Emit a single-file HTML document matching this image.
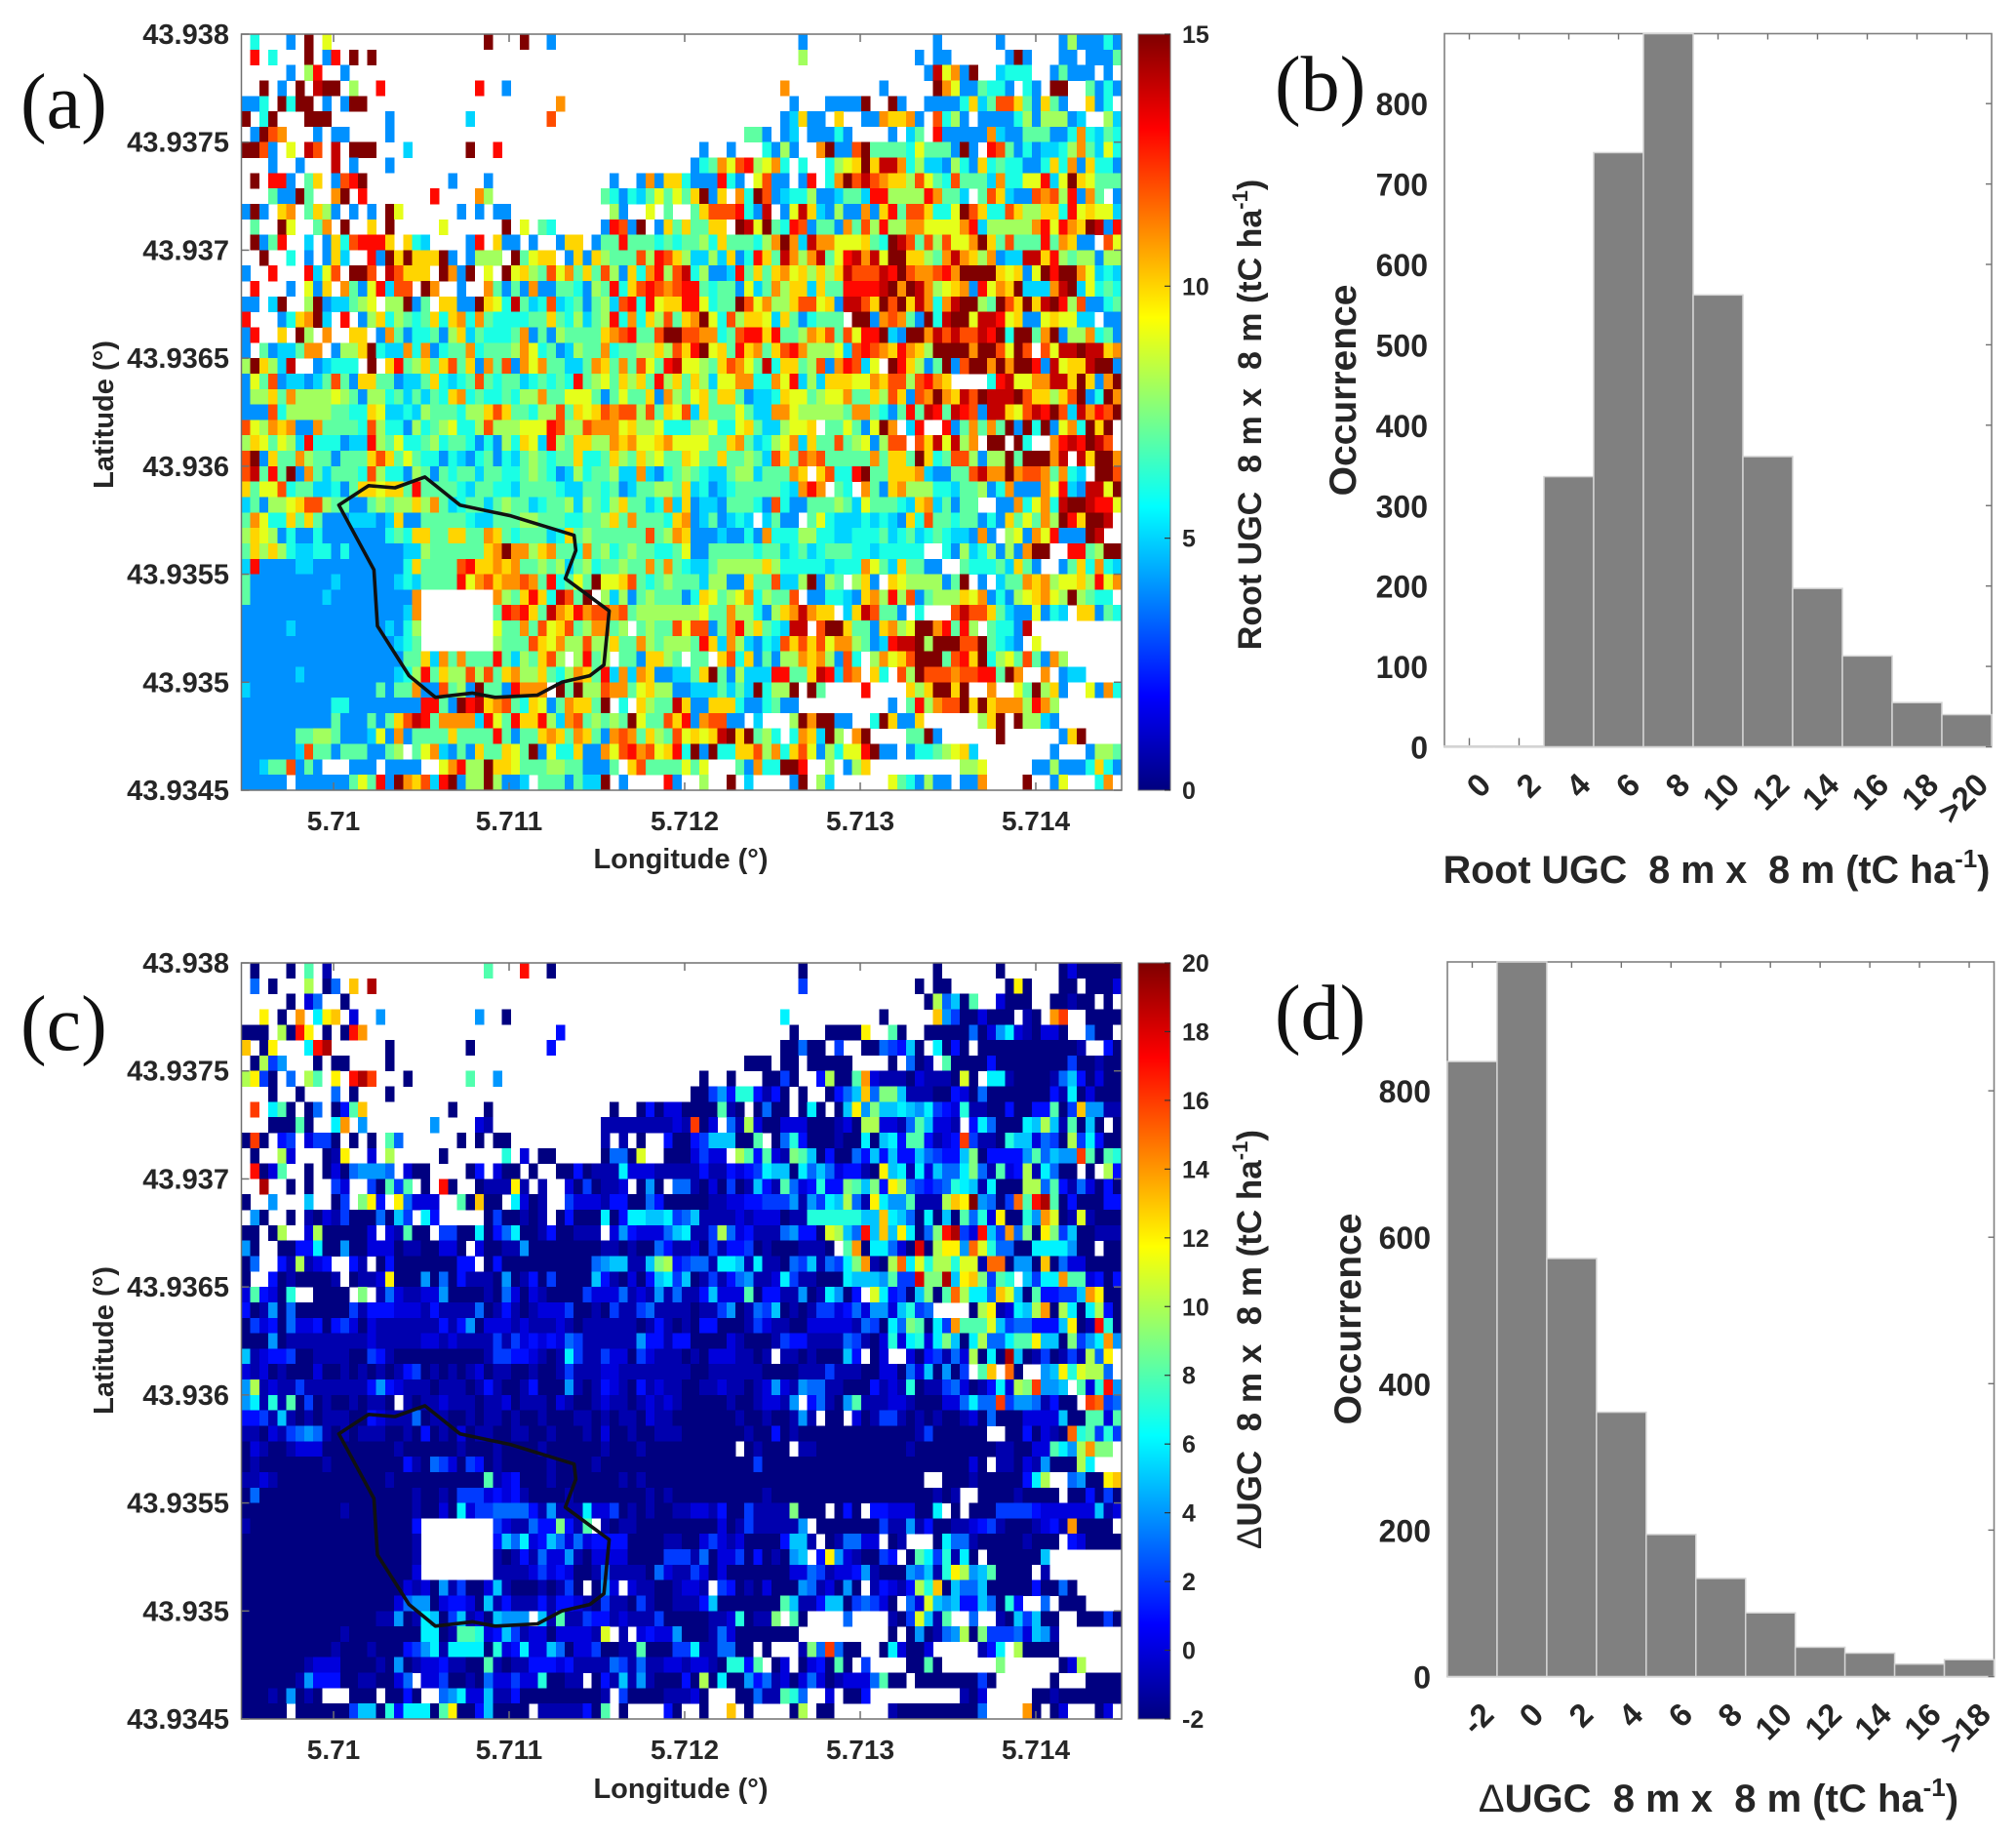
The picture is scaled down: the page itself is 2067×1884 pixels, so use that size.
<!DOCTYPE html>
<html>
<head>
<meta charset="utf-8">
<title>Root UGC and delta UGC maps with histograms</title>
<style>
html,body{margin:0;padding:0;background:#fff;}
svg{display:block;}
text{font-family:"Liberation Sans",sans-serif;fill:#262626;white-space:pre;}
.b{font-weight:bold;}
.serif{font-family:"Liberation Serif",serif;fill:#111;}
</style>
</head>
<body>
<svg id="fig" xmlns="http://www.w3.org/2000/svg" width="2067" height="1884" viewBox="0 0 2067 1884">
<defs>
<linearGradient id="jet" x1="0" y1="1" x2="0" y2="0">
<stop offset="0" stop-color="#00007f"/><stop offset="0.125" stop-color="#0000ff"/><stop offset="0.375" stop-color="#00ffff"/><stop offset="0.5" stop-color="#80ff80"/><stop offset="0.625" stop-color="#ffff00"/><stop offset="0.875" stop-color="#ff0000"/><stop offset="1" stop-color="#7f0000"/>
</linearGradient>
</defs>
<rect x="0" y="0" width="2067" height="1884" fill="#fff"/>
<g id="layer"></g>

<text class="serif" x="21" y="131" font-size="80">(a)</text>
<text class="serif" x="1307" y="113" font-size="80">(b)</text>
<text class="serif" x="21" y="1076" font-size="80">(c)</text>
<text class="serif" x="1307" y="1065" font-size="80">(d)</text>

<text class="b" font-size="29" text-anchor="middle" transform="translate(116,425) rotate(-90)">Latitude (°)</text>
<text class="b" font-size="29" text-anchor="middle" x="698" y="890">Longitude (°)</text>
<text class="b" font-size="29" text-anchor="middle" transform="translate(116,1374) rotate(-90)">Latitude (°)</text>
<text class="b" font-size="29" text-anchor="middle" x="698" y="1843">Longitude (°)</text>

<text class="b" font-size="34" text-anchor="middle" transform="translate(1293,425) rotate(-90)">Root UGC  8 m x  8 m (tC ha<tspan font-size="22" dy="-14">-1</tspan><tspan dy="14">)</tspan></text>
<text class="b" font-size="35" text-anchor="middle" transform="translate(1293,1373) rotate(-90)"><tspan font-weight="normal">Δ</tspan>UGC  8 m x  8 m (tC ha<tspan font-size="22" dy="-14">-1</tspan><tspan dy="14">)</tspan></text>

<text class="b" font-size="39" text-anchor="middle" transform="translate(1390,400) rotate(-90)">Occurrence</text>
<text class="b" font-size="39.5" text-anchor="middle" x="1760" y="905">Root UGC  8 m x  8 m (tC ha<tspan font-size="26" dy="-16">-1</tspan><tspan dy="16">)</tspan></text>
<text class="b" font-size="39" text-anchor="middle" transform="translate(1395,1352) rotate(-90)">Occurrence</text>
<text class="b" font-size="40" text-anchor="middle" x="1762" y="1857"><tspan font-weight="normal">Δ</tspan>UGC  8 m x  8 m (tC ha<tspan font-size="26" dy="-16">-1</tspan><tspan dy="16">)</tspan></text>
</svg>

<script>
// Panel (a) root UGC: one code per grid cell, "." = no data, code index = tC/ha
const rootUgcRows = [
".6...4.f.9 .......... .......f.. .f..4..... .......... .......... ..4....... .......4.. ....4..... .4844464",
".d.6...f.4 d.f.f..... .......... .......... .......... .......... ..8....... .....4.44. .....4f4.. .44.4447",
".....4.8d. .4........ .......... .......... .......... .......... .......... ......4e9b 4f..5666.. 47444.4.",
"..f.4.f.ef f.8..d.... ......d..4 .......... .......... .......... b......... .4.....fb9 447664.64. ff..7464",
"446.f6ff.4 .4ff...... .......... .....b.... .......... .......... .4...4444f ..f4..4444 6a57cca74a 74..a46.",
"f.6f...fff ......4... .....5.... ....c..... .......... .......... 45a44.a..4 4baab4.c68 4.44446848 8845..85",
".4fcb...4. 44....4... .......... .......... .......... ......774. 45.44464.. ..4.57.d44 444b544777 446b6576",
"ffc4.9.ec. e.fff...5. .....f..d. .......... .......... .4..4...64 84..bf44cf 7777697774 f4.dc74645 568b7596",
"...4..4... e.4...4... .......... .......... .......... 467b9cd89b 6.6..689af aeeb685548 64a6766446 a6b4a664",
".f.dd4.7a. 4cdf...... ...4...4.. .......... .4..4b4aa6 444d64.9c4 4.4d.6bfce cbaa8c976c 7775b6699d 59fa9777",
"...744f7.. bf.d...... .d....b8.. .......... 7646579797 af4a.b6fc4 5668445775 dd8888db77 5.7ca544cb c8d4b7.4",
"4f4.ab.7a8 4.4.4.f9.. ....4.4.44 .......... .84..9.7.. 7acccd64e. 49ea54844b 4ad7cca669 fca66ca88a a6d9a995",
".7..f9..7b .f..a.f... ..9......f .9.76..... 4dc4f.4a7a 77aa.fe9f7 6dc4774b7c 8d88bb9999 bd588888bd 9dbafe4d",
".f47d..5.4 a6cddda.a6 5....4d.a4 4.4..4aa.4 77d7776767 786a77768b fb5ebb999a 76fec7c8c9 9bfa7c777d 7ba44.c9",
"..f..6.4.4 a5..d4fafa aaf4.4888. f79aa.4a4a 8777c8dca8 5585a46da7 eb8be79deb e9ffaa87be ba8b455eea d8788488",
"4..d...d59 c.ffc.ecaa a.fb4f.9.f 9a87c9b7a7 c84a6bd8ce 68445d7a7a b9a8a8aecc cedfcbbcdb ffffa9a49f dffb9565",
".d...4.94a .b749d5cc. fb..4..b74 74b4477648 7d6acdcbcd d76774957b 8aa5a77ddd defbfeb89a b4d9baf555 bef59676",
"44.5f..8f4 55789.88f4 7.aa44fa96 e756c56747 85cd6d9aad d9677fc9b8 8acc9a4eec afcfaeb6be ff87fcafae fd8c4467",
"d...46abf5 .d.48a6876 7a6ab6b766 6677a76857 8d6b6a8c7a bf96c8aa95 a746777.ff 4bcb74f6ef f9eed9a449 a9955.44",
"4d..a.f8.b ..aa.4b746 6748a57666 7b47487777 abcd77cffc cbb67cddad 778bac7c9d df54ffbece ccedf6ff7b f488b674",
"4.74557bb. 488af655b6 b4677b6777 8b96745877 b67788a8ca df9a7dab7a cdb88895cd cbadba8fff fbffc9fc.c 9eefeeab",
"8fa85e..45 666.f.ad78 a7ac7a4b7c 4b9b77557b a7b7c97de9 987acb97e6 aa78c4bdc5 9.fda847f4 cffbfbffd4 e9aaeff4",
"497c455457 c74aa77455 7a6567c767 7567676d78 97a8a7d8a7 a8599bb66b 9d585aaa99 bacc8cdba. ...6de99bb eeafa4bf",
"488a7b8888 9874886757 576ab67667 688b779997 47977a4b87 9a7aa74556 a997899b77 a8ca4cbfba ecfeeefcaa 8acf46fb",
"444c688888 7766a95565 8777688aca 77688c7a9a cbcc8c7a9c 5a7779755b b9888887bb 7647d7ed7e dc4eea9ced fc5ebdcf",
"c98bab44b7 7776c86648 6789668c88 8999dc88cb bb9a889666 889669a755 899a.77974 9fb.5d..d4 7b7b7f4f6f 49b6faf.",
"8a97985d66 6455d87966 7867764648 6a95d87aa8 8bab99ab99 9977ab7568 9b5a77c789 48cc.cae9e 8b.ff.f6.. bdedfec.",
"cf4a77b877 4777aca797 6646546746 5787677a66 7a87a8977a 977a77875c a7cbc77777 b7aa7fa67c c8488f7fff be.eaffb",
"ce7d7f4b75 7776c86648 7476775776 6787645867 7855b54678 7655788577 7ba.ac66df 77aaab5447 7cebbfbccb 7b65.ffc",
"a799c67755 647aa9aa7d 7777657766 5777765577 674577887a 5645677777 65bdb.76.b 74ab888665 77846b444b 9d54ee9f",
"574889acc8 774478788a 8b75677578 7756778587 68a7756b5a 455477764c 6447778759 77765ab574 77..44b69b 6effedd9",
"7b966a7a74 4455545a44 7777765577 7887776677 8a7b7776ab 4574565.57 44.7965556 5654a6c776 77464a797b 8fdaffe.",
"8a98464464 444444676a a77aa77ba7 677756a787 77777c78ba 4445446 4b6 6688665566 6756756765 54b4.894b9 d444fe..",
"7a8a865566 4644444455 8777777abf bb8ab776b7 8678776679 4477777677 5675677766 566666..64 856848 4bff ..dd78ff",
"5d44445544 444444446a 7777cdaaba b778785786 77877b7b76 55788888a8 666665666b 975a7744.. 76667 5a74. .47a6b65",
"7444444444 5444444565 7777d9bcab bcb7d6797f 99ac767877 758844a77c 558f487.8a 4.a9888847 f.4.577bab 899a8d9b",
"7444444445 444444444b ........b8 7ada6ec7f. 8584787774 6a9789b687 7c.446654a b8d8c47888 a9b46489ab 98f8766.",
"4444444444 444444445b ........7d cda7ebadbc cbc7888888 8977b88648 abebaa.5ae c774.6...c ecca754494 65.aa476",
"4444454444 4444445468 ........97 7b7c9ac78b b78.7877c9 cc47bd8a76 5ee.cffa77 4ab89ffbd7 d8.7664e.. ........",
"4444444444 4444444567 ........87 77ca9b88c8 8a77b87888 7da5b85465 cacac9bb87 45deef8fff ccf7654.9. ........",
"4444444444 4444444477 a5b7b777d7 587ac8.8d7 8.774aa87. 77.ac6a474 88bab84c6. 8b9acfff7c daf6897c74 b8......",
"4444445444 4444444568 d7a88c8c7a b88a768ba7 d5b5ba4455 7af748555d d77aed5cb. a6.c8fcccb ccdd7fb..b .455....",
"5444444444 444447477b 44c784f774 dbbb.f7f88 cbb79a8844 5557575f68 8f.f7....d ....a8affa f..b..97f8 a4..94b6",
"4444444444 6644444444 dd74fdeabc 76a947baa7 f.6.a877ea 44aaa64467 44........ ..4.7d8bcc fafabbb8db 8.......",
"4444444444 7444747ace d7bbbb5d97 daad85bc78 787f977cad 4bcc44.5.. .8fbff44.. 6fa44a.... ..8af.f885 4.......",
"4444447788 7444594b47 777a7777d7 477aba7ba7 4bcb7a87c9 a9aefaf786 .6ba5f8.bf ....77f4.. ....f..... .4af....",
"4444445c77 47774478.7 9b5474a77a 97f4966a44 b9cdbc9ad6 f4f66aac8b 6ac948699d f44.466789 a5........ 4...4887",
"44577c474. ..444.4444 ..9bd88faa 9777887744 47.ac77779 79...74b66 ffd..8.48a .......... 889.....44 84446a64",
"44444.4444 447 97d4fba c5df488f84 45.7774755 f.4....d4. .8..f.5... .4f.85.... ..9764844. 44b....f.. 49...6b."
];
// Panel (c) delta UGC: "." = no data, code index minus 2 = tC/ha
const deltaUgcRows = [
".0...0.a.1 .......... .......a.. .j..0..... .......... .......... ..0....... .......0.. ....0..... .0200000",
".5.0...c.0 5.f.l..... .......... .......... .......... .......... ..4....... .....0.00. .....0e0.. .00.0002",
".....0.25. .0........ .......... .......... .......... .......... .......... ......0c57 0a..2000.. 00100.0.",
"..e.0.g.8e f.2..6.... ......6..0 .......... .......... .......... 8......... .0.....f64 002000.10. gi..0000",
"000.c0je.0 .0jg...... .......... .....3.... .......... .......... .0...0000e ..a0..0000 0502682102 20..500.",
"f.0e...8jl ......0... .....0.... ....3..... .......... .......... 00500.4..0 054370.803 0.00000000 0001..30",
".0c46...0. 00....0... .......... .......... .......... ......000. 00.00000.. ..0.501.a0 0003000000 00400100",
"ce40.5.ca. e.jli...0. .....a..6. .......... .......... .0..0...00 40..3c00ag 2111021110 d0.8810000 15730200",
"...0..0... 5.0...0... .......... .......... .......... 0046399313 0.0..0357f 5bb7111003 2050000000 31802000",
".i.8a0.05. 03af...... ...0...0.. .......... .0..030220 000a10.050 0.080.07e6 b778768432 9110030033 a04f6611",
"...000a0.. 8g.6...... .6....21.. .......... 1111111121 i02.51c200 222000120c c2215a7221 .385000 87c 71a070.0",
"0i0.34.244 0.0.0.a5.. ....0.0.00 .......... 1.1.0..300 34777 00a.0 5930001008 0783aa3123 i411097725 40c48300",
".0..c2...0 1e..2.c... ..0......9 .2.00..... 0550d..000 2422.ca3a2 1ba7030053 7373375433 7b033336a5 766ia0a9",
".j02a..0.0 2056665.20 0....03.20 0.0..00301 1182221111 1311323487 7085752331 0e78182755 8b51a23c18 500.0.c3",
"..l..0.0.. 42..40a4a. 0.j0..0111 e1.1..2040 112.060.55 1020401731 a523933ba7 b3ec543459 8718000cc5 a3152030",
"0..6...7.. 04.be3.e52 22..a0f00. 8201..4222 1330053000 0011223344 461648 7c51 e866a111cf em6504hajl a0300033",
".60..0.102 140005074. 83.....040 0101.03000 8038877845 7111121222 0119999997 7f87508070 a592e0096g d01d1000",
"00.0c..2c0 00002.21a0 0.44008035 8001300111 .263222578 114c523111 56330dc75j 7f7e805bjl 42j74g5b0e b4700111",
"60..003380 0600222011 00220.2001 1600000000 1101005311 2041334010 00111 0.ag0 88520k0cee 6hd9550088 88600.00",
"05..31c123 ..31.03000 000033.030 0000000005 677117bc34 5518871811 0547154 8bg 10ch8d9cc9 dd1hh0660f 05220000",
"0..3010000 1.0112e000 6050311106 0130400007 3102037847 0141356112 8411000877 76a44kbbl7 efb4a9.748 8gaa2303",
"2a3209..00 00.b.15211 2260000105 2021000042 2251216151 137222a033 116018603. d83407b0ah c885fd70a3 3447ge00",
"3016050000 0041333222 1311115013 1012224001 0411451111 0114601547 0101442352 662794 5... .0ce1287cg 0c808c30",
"0423052230 3420211111 1131360222 1211121011 1111013101 0330001421 1002222215 4085ba084g aaad745533 37e01j90",
"0006011111 1111211111 2212111141 4232325411 1111633133 0000210001 4331111541 02928928b7 08c558aae7 70b468g6",
"7123340011 1100431000 0000000144 3321018411 4220421110 102221101. 110100073. 02..203415 2c080l7014 0141c5e.",
"2120100020 0101010134 0101012011 0010014111 2211111111 0011111100 0011141110 0220527060 4.af.h0..6 7e9dcc5.",
"6c12114111 1111363211 1011101310 0130006101 3210312110 0112110126 2165511000 3121901145 201382cbi6 67.a29j6",
"68191a0401 0010110.10 1121110112 0111021001 2110121210 0000100122 16.351 06a1 1122100022 5855i46651 300.ih45",
"3341710101 1100321115 0110010110 1001000110 1011021100 0000010010 0161.00.20 1441010100 1205000222 2700aa2a",
"1102145651 0101110010 3010201100 1100100010 2001001110 0000001003 0100000000 0000014000 000..00302 10h9a494",
"0210012220 0000000100 0000100010 0001000000 1000100000 00000.0100 0.11000000 0000100000 0000110022 a86cgbb.",
"0100000001 0000000031 0542043010 0000100001 0000000000 0000000400 0000000000 0000000000 020.110216 000c8...",
"1121000000 0000001000 0000000a12 3000100000 0010100000 0000000000 0000000000 000000..00 0100000 38c ..5600ef",
"0500000000 0000000001 0010444232 3100001000 0000010100 0000000010 0000000000 0000000101 ..00001000 0.003040",
"0000000000 0100000001 0020824455 5531611182 2401010011 2213004111 1b000.030. 33222008.0 .000444432 22222712",
"1000000000 0000000003 ........42 11533b31a. 1011000000 0002014111 116.000000 0411613001 1234100012 31g0000.",
"0000000000 0000000001 ........37 5823752523 3330000110 0242120000 3771.01552 2.01...085 5100000100 0.320000",
"0000000000 0000000001 ........10 1315226102 2220000444 1502240301 067.3e6210 043.0a8491 80.0000007 ........",
"0000000000 0000000002 ........11 1124232001 5111105211 4202000000 0225412236 100065719e c67a0000.1 ........",
"0000000000 0000000021 2061400271 00010140.0 62.2110012 21.4301020 006512060. 13213c9f07 5570000030 050.....",
"0000000000 0000000256 6023320713 1113133210 4110410011 1370000000 a711377045 420.52d767 3375093..5 .000....",
"0000000000 0000011601 8704712076 66.71a1143 3121114000 001129011b .a0....5.. ..104d71a. .5..107470 0..00040",
"0000000000 0100000000 8801aa9237 4122022221 d.1.232260 0015200000 00........ ..0.060156 c0b4445276 1.......",
"0000000000 1000100034 6818888092 3822750224 0011a00044 811550 0.0. ..1b5i500. .08200 2... ..138.c000 0.......",
"0000000122 2000010601 2231100a10 1133323111 1541511221 2210993a.0 2.0230a0.4 ....00a0.. ....b..... .02c....",
"0000001633 300110025. 2240010522 42290011.0 3171610003 0c08006351 2025201222 5a00.00000 0040...... 0...0000",
"000106010. ..000.0030 ..56822711 3000000000 1.40000111 20...00511 a95..2.003 .......... 102.....00 10000000",
"00000.0000 0047709388 80ae003700 00.1111130 a.0....30. .0..f.0... .0c.00.... ..10000000 005....g0. 02...02."
];
const cellCodes = "0123456789abcdefghijklm";
// Outline of the study plot, degrees
const plotLon = [5.71003,5.71020,5.71035,5.71052,5.71072,5.71101,5.71137,5.71138,5.71132,5.71157,5.71154,5.71146,5.71130,5.71116,5.71092,5.71079,5.71058,5.71043,5.71025,5.71023];
const plotLat = [43.93582,43.93591,43.93590,43.93595,43.93582,43.93577,43.93568,43.93561,43.93548,43.93533,43.93508,43.93503,43.93500,43.93494,43.93493,43.93495,43.93493,43.93503,43.93526,43.93552];
const lonTicks = [5.71,5.711,5.712,5.713,5.714];
const lonTickLabels = ["5.71","5.711","5.712","5.713","5.714"];
const latTicks = [43.938,43.9375,43.937,43.9365,43.936,43.9355,43.935,43.9345];
const latTickLabels = ["43.938","43.9375","43.937","43.9365","43.936","43.9355","43.935","43.9345"];
const cbTicksA = [0,5,10,15];
const cbTicksC = [-2,0,2,4,6,8,10,12,14,16,18,20];
// Histogram (b)
const histBCategories = ["0","2","4","6","8","10","12","14","16","18",">20"];
const histBValues = [1,1,336,739,887,562,361,197,113,55,40];
const histBYTicks = [0,100,200,300,400,500,600,700,800];
// Histogram (d)
const histDCategories = ["-2","0","2","4","6","8","10","12","14","16",">18"];
const histDValues = [840,976,571,361,194,134,87,40,32,17,23];
const histDYTicks = [0,200,400,600,800];

const NS = "http://www.w3.org/2000/svg";
const layer = document.getElementById("layer");
function make(tag, props, parent) {
  const el = document.createElementNS(NS, tag);
  for (const k in props) el.setAttribute(k, props[k]);
  (parent || layer).appendChild(el);
  return el;
}
function clamp01(v) { return Math.max(0, Math.min(1, v)); }
function jet(t) {
  const r = clamp01(1.5 - Math.abs(4 * t - 3));
  const g = clamp01(1.5 - Math.abs(4 * t - 2));
  const b = clamp01(1.5 - Math.abs(4 * t - 1));
  return "rgb(" + Math.round(r * 255) + "," + Math.round(g * 255) + "," + Math.round(b * 255) + ")";
}
const LINE = "#707070", INK = "#262626";

function mapPanel(id, rows, offset, vmin, vmax, top, cbTicks) {
  const left = 247.5, right = 1150, bottom = top + 775;
  const xOf = lon => 342 + (lon - 5.71) * 180000;
  const yOf = lat => top + (43.938 - lat) * 775 / 0.0035;
  const grid = rows.map(r => r.replace(/ /g, ""));
  const nRows = grid.length, nCols = 98;
  const cw = (right - left) / nCols, ch = (bottom - top) / nRows;
  const g = make("g", {"shape-rendering": "crispEdges"});
  
  
  grid.forEach((row, r) => {
    for (let c = 0; c < nCols && c < row.length; c++) {
      const idx = cellCodes.indexOf(row[c]);
      if (idx < 0) continue;
      const value = idx + offset;
      const cell = make("rect", {
        x: (left + c * cw).toFixed(2), y: (top + r * ch).toFixed(2),
        width: (cw + 0.3).toFixed(2), height: (ch + 0.3).toFixed(2),
        fill: jet((value - vmin) / (vmax - vmin))
      }, g);
      
      
    }
  });
  const frame = make("rect", {x: left, y: top, width: right - left, height: bottom - top, fill: "none", stroke: LINE, "stroke-width": 1.5});
  
  
  lonTicks.forEach((lon, i) => {
    const x = xOf(lon);
    const t1 = make("line", {x1: x, x2: x, y1: top, y2: top + 8, stroke: LINE, "stroke-width": 1.5});
    
    
    const t2 = make("line", {x1: x, x2: x, y1: bottom, y2: bottom - 8, stroke: LINE, "stroke-width": 1.5});
    
    
    const label = make("text", {x: x, y: bottom + 41, "text-anchor": "middle", "font-size": 28, "font-weight": "bold"});
    label.textContent = lonTickLabels[i];
    
    
  });
  latTicks.forEach((lat, i) => {
    const y = yOf(lat);
    const t1 = make("line", {x1: left, x2: left + 8, y1: y, y2: y, stroke: LINE, "stroke-width": 1.5});
    
    
    const t2 = make("line", {x1: right, x2: right - 8, y1: y, y2: y, stroke: LINE, "stroke-width": 1.5});
    
    
    const label = make("text", {x: 235, y: y + 10, "text-anchor": "end", "font-size": 29, "font-weight": "bold"});
    label.textContent = latTickLabels[i];
    
    
  });
  const outline = make("polygon", {
    points: plotLon.map((lon, i) => xOf(lon).toFixed(1) + "," + yOf(plotLat[i]).toFixed(1)).join(" "),
    fill: "none", stroke: "#111", "stroke-width": 3.6, "stroke-linejoin": "round"
  });
  
  
  const cbL = 1167, cbR = 1200;
  const bar = make("rect", {x: cbL, y: top, width: cbR - cbL, height: bottom - top, fill: "url(#jet)", stroke: LINE, "stroke-width": 1});
  
  
  cbTicks.forEach(v => {
    const y = bottom - (v - vmin) / (vmax - vmin) * (bottom - top);
    const t = make("line", {x1: cbR, x2: cbR - 6, y1: y, y2: y, stroke: "#333", "stroke-width": 1.2});
    
    
    const label = make("text", {x: 1212, y: y + 9, "font-size": 25, "font-weight": "bold"});
    label.textContent = String(v);
    
    
  });
}

function histPanel(id, cats, vals, yTicks, left, right, top, bottom, yMax) {
  const yOf = v => bottom - v / yMax * (bottom - top);
  const w = (right - left) / cats.length;
  const frame = make("rect", {x: left, y: top, width: right - left, height: bottom - top, fill: "none", stroke: "#808080", "stroke-width": 1.6});
  
  
  cats.forEach((c, i) => {
    const cx = left + w * (i + 0.5);
    const t1 = make("line", {x1: cx, x2: cx, y1: top, y2: top + 6, stroke: "#707070", "stroke-width": 1.4});
    
    
    const t2 = make("line", {x1: cx, x2: cx, y1: bottom, y2: bottom - 9, stroke: "#707070", "stroke-width": 1.4});
    
    
    const barRect = make("rect", {
      x: left + w * i, y: yOf(vals[i]), width: w, height: bottom - yOf(vals[i]),
      fill: "#808080", stroke: "#d4d4d4", "stroke-width": 1.5
    });
    
    
    const label = make("text", {
      "text-anchor": "end", "font-size": 33, "font-weight": "bold",
      transform: "translate(" + (cx + 24) + "," + (bottom + 41) + ") rotate(-45)"
    });
    label.textContent = c;
    
    
  });
  yTicks.forEach(v => {
    const y = yOf(v);
    const t = make("line", {x1: right, x2: right - 6, y1: y, y2: y, stroke: "#707070", "stroke-width": 1.4});
    
    
    const label = make("text", {x: left - 17, y: y + 12, "text-anchor": "end", "font-size": 32, "font-weight": "bold"});
    label.textContent = String(v);
    
    
  });
}

mapPanel("a", rootUgcRows, 0, 0, 15, 35, cbTicksA);
mapPanel("c", deltaUgcRows, -2, -2, 20, 987, cbTicksC);
histPanel("b", histBCategories, histBValues, histBYTicks, 1481, 2042, 34.5, 765.5, 887);
histPanel("d", histDCategories, histDValues, histDYTicks, 1484, 2044.5, 986, 1718.5, 976);
</script>
</body>
</html>
